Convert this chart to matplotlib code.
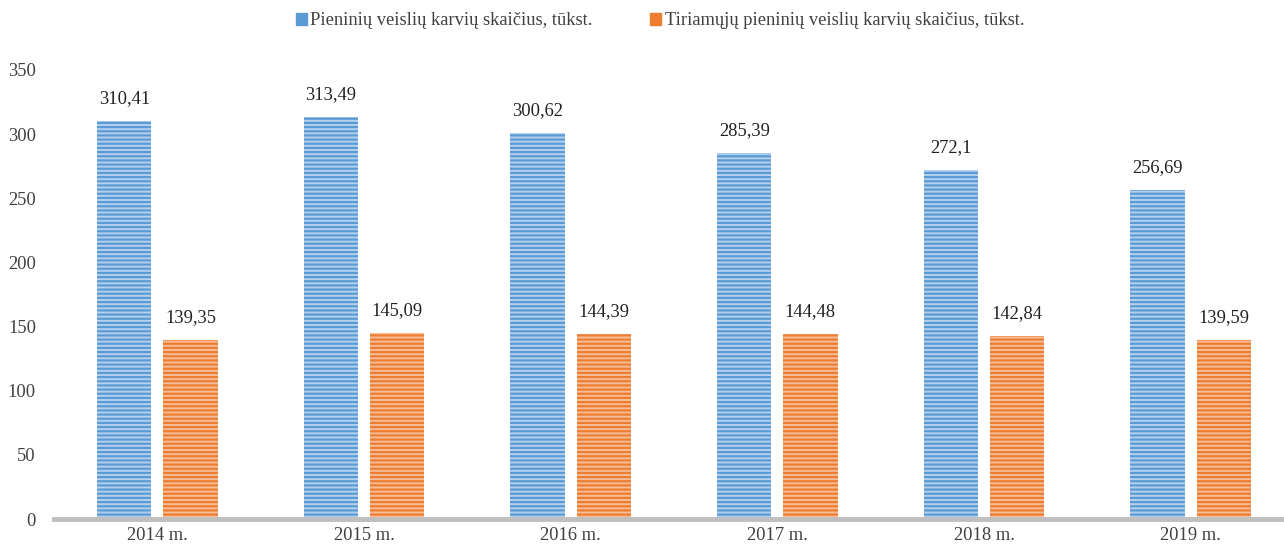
import matplotlib.pyplot as plt
import numpy as np
from matplotlib.patches import Patch

plt.rcParams['font.family'] = ['Liberation Serif', 'DejaVu Serif']
plt.rcParams['hatch.linewidth'] = 1.6

years = ['2014 m.', '2015 m.', '2016 m.', '2017 m.', '2018 m.', '2019 m.']
dairy = [310.41, 313.49, 300.62, 285.39, 272.1, 256.69]
tested = [139.35, 145.09, 144.39, 144.48, 142.84, 139.59]
dairy_lbl = ['310,41', '313,49', '300,62', '285,39', '272,1', '256,69']
tested_lbl = ['139,35', '145,09', '144,39', '144,48', '142,84', '139,59']
names = ['Pieninių veislių karvių skaičius, tūkst.',
         'Tiriamųjų pieninių veislių karvių skaičius, tūkst.']

blue = '#5b9bd5'
orange = '#ed7d31'
txt = '#404040'

fig = plt.figure(figsize=(12.84, 5.51), dpi=100)
ax = fig.add_axes([54 / 1284, 0.058, 1240 / 1284, 0.815])

x = np.arange(len(years))
w = 0.263
off = 0.16

b1 = ax.bar(x - off, dairy, w, facecolor='#b4d0ee', edgecolor=blue,
            linewidth=0, hatch='----', clip_on=False)
b2 = ax.bar(x + off, tested, w, facecolor='#f6bd98', edgecolor=orange,
            linewidth=0, hatch='----', clip_on=False)

for bars, lbls in [(b1, dairy_lbl), (b2, tested_lbl)]:
  for r, l in zip(bars, lbls):
    ax.annotate(l, (r.get_x() + r.get_width() / 2, r.get_height()),
                xytext=(0, 10), textcoords='offset points',
                ha='center', va='bottom', fontsize=13.3, color='#222222')

ax.set_xlim(-0.5, 5.5)
ax.set_ylim(0, 350)
ax.set_yticks(range(0, 351, 50))
ax.set_xticks(x)
ax.set_xticklabels(years)
ax.tick_params(axis='both', length=0, labelsize=13.3, colors=txt)
ax.tick_params(axis='y', pad=13)
ax.tick_params(axis='x', pad=6)

for s in ['top', 'right', 'left']:
  ax.spines[s].set_visible(False)
ax.spines['bottom'].set_color('#bfbfbf')
ax.spines['bottom'].set_linewidth(3.5)

handles = [Patch(facecolor=blue, edgecolor=blue), Patch(facecolor=orange, edgecolor=orange)]
fig.legend(handles, names, loc='center', bbox_to_anchor=(0.514, 0.962), ncol=2,
           frameon=False, fontsize=13.3, handlelength=0.6, handleheight=0.6,
           handletextpad=0.2, columnspacing=3.1, labelcolor=txt)

plt.savefig('out.png', dpi=100)
